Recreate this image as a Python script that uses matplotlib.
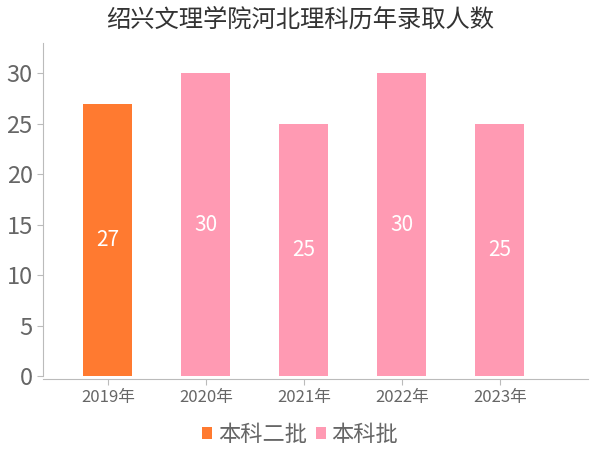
import matplotlib
matplotlib.use("Agg")
import matplotlib.pyplot as plt
import numpy as np

plt.rcParams['font.family'] = ['Noto Sans CJK SC', 'DejaVu Sans']

# данные
years = ['2019年', '2020年', '2021年', '2022年', '2023年']
batch2 = [27, 0, 0, 0, 0]      # 本科二批
batch1 = [0, 30, 25, 30, 25]   # 本科批
names = ['本科二批', '本科批']
colors = ['#FF7A30', '#FF9AB3']
grey = '#666666'

fig = plt.figure(figsize=(6, 4.5), dpi=100)
ax = fig.add_axes([0.072, 0.164, 0.908, 0.74])

x = np.arange(len(years))
b1 = ax.bar(x, batch2, 0.5, color=colors[0], label=names[0])
b2 = ax.bar(x, batch1, 0.5, bottom=batch2, color=colors[1], label=names[1])

for bars in (b1, b2):
    for r in bars:
        h = r.get_height()
        if h > 0:
            ax.text(r.get_x() + r.get_width() / 2, r.get_y() + h / 2, str(int(h)),
                    ha='center', va='center', color='white', fontsize=15)

ax.set_ylim(0, 33)
ax.set_xlim(-0.66, 4.9)
ax.set_yticks([0, 5, 10, 15, 20, 25, 30])
ax.set_xticks(x)
ax.set_xticklabels(years)
ax.tick_params(axis='y', labelsize=17, colors=grey, length=4, color='#bbbbbb')
ax.tick_params(axis='x', labelsize=12, colors=grey, length=4, color='#bbbbbb')
for s in ['top', 'right']:
    ax.spines[s].set_visible(False)
ax.spines['left'].set_color('#bbbbbb')
ax.spines['bottom'].set_color('#bbbbbb')
ax.spines['bottom'].set_position(('outward', 2))

fig.suptitle('绍兴文理学院河北理科历年录取人数', y=0.985, fontsize=17.5, color='#333333')
fig.legend(loc='lower center', bbox_to_anchor=(0.5, -0.035), ncol=2, frameon=False,
           fontsize=16, labelcolor=grey, handlelength=0.45, handleheight=0.45,
           handletextpad=0.25, columnspacing=0.4)

fig.savefig('out.png', dpi=100)
